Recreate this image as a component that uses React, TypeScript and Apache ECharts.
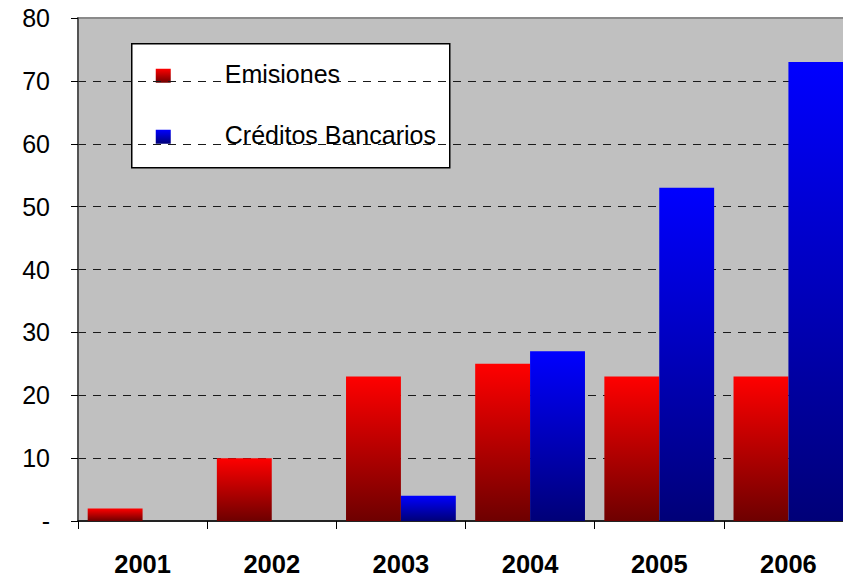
import React, { useEffect, useRef } from "react";
import * as echarts from "echarts";

const years = ["2001", "2002", "2003", "2004", "2005", "2006"];
const emisiones = [2, 10, 23, 25, 23, 23];
const creditos = [0, 0, 4, 27, 53, 73];
const seriesNames = ["Emisiones", "Créditos Bancarios"];

const FONT = "'Liberation Sans', Arial, sans-serif";

const redGrad = () =>
  new echarts.graphic.LinearGradient(0, 0, 0, 1, [
    { offset: 0, color: "#FF0000" },
    { offset: 1, color: "#6E0000" },
  ]);
const blueGrad = () =>
  new echarts.graphic.LinearGradient(0, 0, 0, 1, [
    { offset: 0, color: "#0000FF" },
    { offset: 1, color: "#000078" },
  ]);

export default function App() {
  const ref = useRef<HTMLDivElement>(null);
  useEffect(() => {
    document.body.style.margin = "0";
    if (!ref.current) return;
    const chart = echarts.init(ref.current, null, { renderer: "svg" });
    chart.setOption({
      animation: false,
      backgroundColor: "#FFFFFF",
      grid: {
        left: 78,
        top: 18,
        width: 775,
        bottom: 56,
        outerBoundsMode: "none",
        containLabel: false,
        show: true,
        backgroundColor: "#C0C0C0",
        borderColor: "#8A8A8A",
        borderWidth: 2,
      },
      xAxis: {
        type: "category",
        data: years,
        boundaryGap: true,
        axisLine: { show: true, lineStyle: { color: "#000", width: 1.5 } },
        axisTick: { show: true, length: 8, lineStyle: { color: "#000" } },
        axisLabel: {
          fontFamily: FONT,
          fontSize: 25.5,
          fontWeight: "bold",
          color: "#000",
          margin: 30,
        },
      },
      yAxis: {
        type: "value",
        min: 0,
        max: 80,
        interval: 10,
        axisLine: { show: true, lineStyle: { color: "#404040", width: 1.5 } },
        axisTick: { show: true, length: 7, lineStyle: { color: "#000" } },
        axisLabel: {
          fontFamily: FONT,
          fontSize: 25,
          color: "#000",
          margin: 28,
          formatter: (v: number) => (v === 0 ? "-" : String(v)),
        },
        splitLine: {
          show: true,
          showMinLine: false,
          showMaxLine: false,
          lineStyle: { color: "#1a1a1a", type: [8, 7], width: 1 },
        },
      },
      series: [
        {
          name: seriesNames[0],
          type: "bar",
          data: emisiones,
          barGap: "0%",
          barCategoryGap: "15%",
          itemStyle: { color: redGrad() },
        },
        {
          name: seriesNames[1],
          type: "bar",
          data: creditos,
          barGap: "0%",
          barCategoryGap: "15%",
          itemStyle: { color: blueGrad() },
        },
      ],
      graphic: [
        {
          type: "group",
          left: 131,
          top: 43,
          children: [
            {
              type: "rect",
              shape: { x: 0, y: 0, width: 318, height: 124 },
              style: { fill: "#FFFFFF", stroke: "#000", lineWidth: 1.5 },
            },
            {
              type: "rect",
              shape: { x: 24, y: 25, width: 15, height: 14 },
              style: { fill: redGrad() },
            },
            {
              type: "text",
              x: 93,
              y: 30,
              style: {
                text: seriesNames[0],
                font: `25px ${FONT}`,
                fill: "#000",
                verticalAlign: "middle",
              },
            },
            {
              type: "rect",
              shape: { x: 24, y: 86, width: 15, height: 14 },
              style: { fill: blueGrad() },
            },
            {
              type: "text",
              x: 93,
              y: 91,
              style: {
                text: seriesNames[1],
                font: `25px ${FONT}`,
                fill: "#000",
                verticalAlign: "middle",
              },
            },
          ],
        },
      ],
    });
    return () => chart.dispose();
  }, []);
  return <div ref={ref} style={{ width: 843, height: 577 }} />;
}
